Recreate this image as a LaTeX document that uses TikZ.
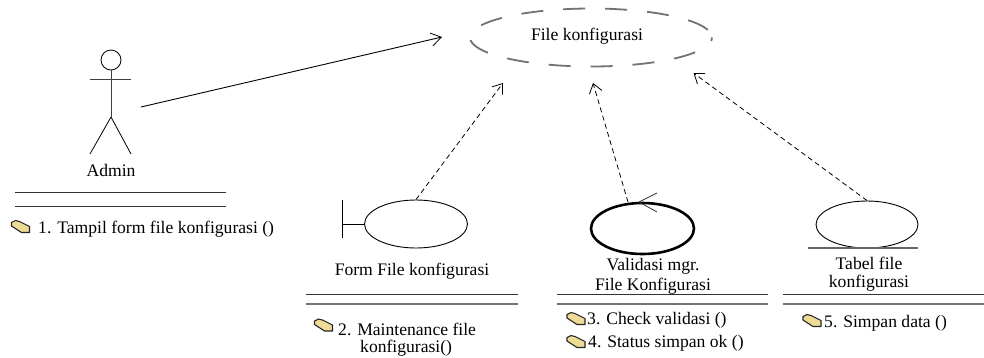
\documentclass[tikz,border=0pt]{standalone}
\usepackage{fontspec}
\setmainfont{Liberation Serif}
\usetikzlibrary{arrows.meta,shapes.geometric}
\definecolor{foldfill}{RGB}{236,220,150}
\tikzset{
 x=1pt,y=-1pt,
 lbl/.style={font=\fontsize{17.6}{20}\selectfont,text=black,inner sep=0pt,align=center},
 ruleA/.style={draw=black!80,line width=.9pt},
 ruleB/.style={draw=black!55,line width=1.2pt},
 dep/.style={draw=black,line width=.8pt,dash pattern=on 5pt off 3.5pt,-{Straight Barb[length=9pt,width=13pt,line width=.8pt]}},
 assoc/.style={draw=black,line width=.9pt,-{Straight Barb[length=10pt,width=13pt,line width=.8pt]}},
 folder/.pic={
  \path[draw=black!85,line width=1.1pt,fill=foldfill,line join=round]
   (-9,-4)--(-5,-6)--(-1,-5)--(9,0)--(9,6)--(1,6)--(-9,-0.5)--cycle;
 }
}
\begin{document}
\begin{tikzpicture}
\useasboundingbox (0,0) rectangle (984,357);
\fill[white] (0,0) rectangle (984,357);
% File konfigurasi
\node[ellipse,draw=black!55,line width=1.8pt,dash pattern=on 22pt off 20pt,dash phase=33pt,minimum width=242pt,minimum height=58pt,inner sep=0pt] (fk) at (591,37.5) {};
\node[lbl] (fkl) at (587,36) {File konfigurasi};
% Actor
\node[circle,draw=black,line width=.8pt,minimum size=20pt,inner sep=0pt] (head) at (111,60) {};
\coordinate (hip) at (111,117);
\coordinate (armL) at (90,79);
\coordinate (armR) at (131,79);
\coordinate (legL) at (90,154);
\coordinate (legR) at (131,154);
\draw[black!75,line width=.9pt] (head.south) -- (hip) (armL) -- (armR);
\draw[black,line width=.8pt] (hip) -- (legL) (hip) -- (legR);
\node[lbl] (admin) at (111,170) {Admin};
\draw[ruleA] (15,192)--(226,192);
\draw[ruleA] (15,206)--(226,206);
\pic at (20.5,226.5) {folder};
\node[lbl,anchor=west] (m1) at (38,229) {1. Tampil form file konfigurasi ()};
% Form
\node[ellipse,draw=black,line width=.9pt,minimum width=103pt,minimum height=48pt,inner sep=0pt] (form) at (416,224) {};
\coordinate (tb1) at (342,200); \coordinate (tb2) at (342,238);
\coordinate (tbm) at (342,224);
\draw[black,line width=.9pt] (tb1)--(tb2) (tbm)--(form.west);
\node[lbl] (forml) at (412,271) {Form File konfigurasi};
\draw[ruleA] (306,294)--(518,294);
\draw[ruleB] (306,304)--(518,304);
\pic at (323.5,325) {folder};
\node[lbl,anchor=west] (m2) at (338,329) {2. Maintenance file};
\node[lbl,anchor=west] (m2b) at (360,348) {konfigurasi()};
% Validasi
\node[ellipse,draw=black,line width=2.6pt,minimum width=103pt,minimum height=51pt,inner sep=0pt] (val) at (642.5,228.5) {};
\node[lbl] (vall) at (653,266) {Validasi mgr.};
\node[lbl] (vall2) at (653,286) {File Konfigurasi};
\draw[ruleA] (557,294)--(768,294);
\draw[ruleB] (557,304)--(768,304);
\pic at (576,318.5) {folder};
\node[lbl,anchor=west] (m3) at (587,320) {3. Check validasi ()};
\pic at (576,341.5) {folder};
\node[lbl,anchor=west] (m4) at (588,343) {4. Status simpan ok ()};
\coordinate (ah) at (639,202);
\coordinate (ah1) at (657,193);
\coordinate (ah2) at (657,212);
\draw[black!80,line width=.8pt] (ah1)--(ah)--(ah2);
% Tabel
\node[ellipse,draw=black,line width=.9pt,minimum width=102pt,minimum height=47pt,inner sep=0pt] (tab) at (867,224.5) {};
\draw[black!60,line width=1.2pt] (808,248)--(918,248);
\node[lbl] (tabl) at (869,263) {Tabel file};
\node[lbl] (tabl2) at (869,283) {konfigurasi};
\draw[ruleA] (783,294)--(984,294);
\draw[ruleB] (783,304)--(984,304);
\pic at (812,320.5) {folder};
\node[lbl,anchor=west] (m5) at (824,323) {5. Simpan data ()};
% Connectors
\coordinate (t1) at (442,37);
\coordinate (t2) at (503,83);
\coordinate (t3) at (593,83);
\coordinate (t4) at (693.5,73);
\coordinate (s1) at (141,107);
\coordinate (s3) at (628,202);
\draw[assoc] (s1)--(t1);
\draw[dep] (form.north)--(t2);
\draw[dep] (s3)--(t3);
\draw[dep] (tab.north)--(t4);
\end{tikzpicture}
\end{document}
